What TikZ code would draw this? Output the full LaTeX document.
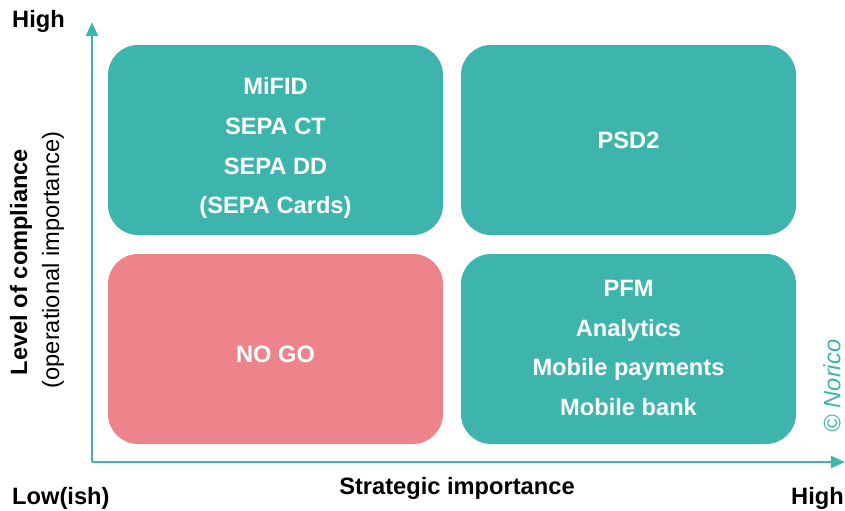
\documentclass[tikz,border=0pt]{standalone}
\usepackage{fontspec}
\setmainfont{Liberation Sans}
\usetikzlibrary{positioning,arrows.meta}
\definecolor{norteal}{RGB}{61,181,173}
\definecolor{norpink}{RGB}{238,132,139}
\tikzset{
    x=0.03cm,
    y=-0.03cm,
    quad/.style = {
        shape=rectangle,
        rounded corners=30*0.03cm,
        minimum width=335*0.03cm,
        minimum height=190*0.03cm,
        fill=norteal
    },
    quadtext/.style = {
        text=white,
        align=center,
        font=\fontsize{20.2}{34}\selectfont\bfseries
    },
    axis/.style = {
        draw=norteal,
        line width=2.4pt,
        -{Triangle[length=12pt,width=10pt]}
    },
    label/.style = {
        font=\fontsize{20.2}{24}\selectfont\bfseries,
        inner sep=0pt
    },
}

\begin{document}
\begin{tikzpicture}
    \useasboundingbox (0,0) rectangle (845,511);

    % quadrants
    \node[quad] (compl) at (275.5,140) {};
    \node[quad] (strat) at (628.5,140) {};
    \node[quad, fill=norpink] (nogo) at (275.5,349) {};
    \node[quad] (digital) at (628.5,349) {};
    \node[quadtext] (compltext) at (275.5,148) {MiFID\\SEPA CT\\SEPA DD\\(SEPA Cards)};
    \node[quadtext] (strattext) at (strat) {PSD2};
    \node[quadtext] (nogotext) at (275.5,354) {NO GO};
    \node[quadtext] (digitaltext) at (628.5,348) {PFM\\Analytics\\Mobile payments\\Mobile bank};

    % axes
    \coordinate (origin) at (92,462);
    \coordinate (ytop) at (92,22);
    \coordinate (xend) at (845,462);
    \draw[axis] (origin) -- (ytop);
    \draw[axis] (origin) -- (xend);

    % axis texts
    \node[label, anchor=west] (yhigh) at (12,21) {High};
    \node[label, anchor=west] (low) at (12,498) {Low(ish)};
    \node[label, anchor=east] (xhigh) at (844,498) {High};
    \node[label] (xlabel) at (457,488) {Strategic importance};
    \node[label, rotate=90] (ylabel) at (21,262) {Level of compliance};
    \node[label, rotate=90, font=\fontsize{20.2}{24}\selectfont] (ysub) at (53,260) {(operational importance)};
    \node[label, rotate=90, text=norteal, font=\fontsize{20.2}{24}\selectfont\itshape] (copy) at (832,386) {© Norico};
\end{tikzpicture}
\end{document}
